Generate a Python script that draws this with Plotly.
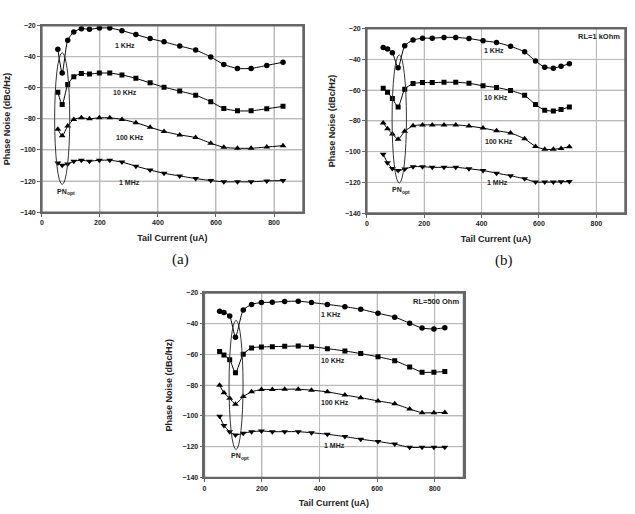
import plotly.graph_objects as go

W, H = 635, 514

# ---------------- data ----------------
series_names = ["1 KHz", "10 KHz", "100 KHz", "1 MHz"]
series_symbols = ["circle", "square", "triangle-up", "triangle-down"]

x_a = [55, 70, 89, 110, 136, 164, 198, 234, 276, 324, 373, 421, 475, 530, 582, 627, 674, 721, 775, 831]
a_1k = [-35.2, -50.5, -29.3, -24.0, -21.9, -22.3, -21.5, -21.5, -23.2, -25.7, -28.3, -30.4, -33.1, -35.7, -40.1, -45.0, -47.5, -47.5, -45.6, -43.5]
a_10k = [-62.8, -70.8, -57.9, -52.8, -50.7, -51.1, -50.5, -50.5, -51.7, -53.9, -56.8, -59.6, -62.1, -64.7, -68.9, -73.3, -74.8, -74.8, -73.5, -71.9]
a_100k = [-86.7, -90.9, -84.6, -80.3, -79.3, -79.9, -79.3, -79.3, -80.3, -82.4, -85.4, -88.1, -90.3, -92.0, -95.6, -98.3, -98.9, -98.9, -98.1, -97.2]
a_1m = [-108.3, -109.9, -109.1, -107.2, -106.6, -107.2, -106.6, -106.6, -107.8, -110.4, -112.9, -115.0, -116.7, -118.4, -119.7, -120.5, -120.5, -120.5, -119.9, -119.7]

x_b = [57, 72, 89, 109, 132, 161, 194, 228, 269, 310, 356, 405, 452, 501, 550, 588, 620, 650, 677, 706]
b_1k = [-32.3, -33.2, -35.7, -45.5, -31.1, -27.4, -26.2, -26.2, -25.7, -25.7, -26.4, -27.9, -29.0, -31.5, -35.1, -41.1, -45.1, -45.7, -44.5, -42.8]
b_10k = [-58.7, -61.3, -65.5, -70.9, -59.4, -55.7, -55.1, -55.1, -54.9, -54.9, -55.5, -57.2, -58.3, -60.2, -63.4, -69.4, -73.0, -73.6, -72.6, -70.9]
b_100k = [-81.3, -85.1, -88.5, -91.9, -86.8, -83.2, -82.6, -82.6, -82.6, -82.6, -83.4, -84.7, -86.4, -87.9, -91.7, -96.6, -98.5, -98.5, -97.9, -96.8]
b_1m = [-101.7, -107.2, -110.9, -112.3, -111.3, -109.8, -109.8, -110.2, -110.2, -110.2, -111.1, -112.3, -114.0, -115.7, -117.7, -119.8, -119.8, -119.8, -119.6, -119.4]

x_c = [53, 68, 88, 108, 135, 164, 198, 236, 279, 326, 372, 427, 488, 543, 603, 661, 713, 756, 797, 835]
c_1k = [-31.9, -32.6, -35.0, -48.7, -31.1, -27.4, -26.2, -26.0, -25.5, -25.3, -26.2, -27.4, -28.9, -30.6, -33.2, -35.7, -39.6, -42.8, -43.4, -42.6]
c_10k = [-58.1, -60.4, -63.4, -71.9, -59.8, -55.7, -55.1, -54.9, -54.7, -54.5, -54.9, -56.2, -57.7, -59.4, -61.5, -64.0, -68.1, -71.5, -71.5, -71.1]
c_100k = [-80.0, -84.9, -88.5, -92.3, -87.4, -84.3, -82.8, -82.8, -82.6, -82.6, -83.2, -84.3, -86.4, -88.1, -90.2, -92.1, -95.5, -97.9, -97.9, -97.7]
c_1m = [-100.2, -106.2, -110.2, -112.3, -111.3, -110.2, -109.8, -110.2, -110.2, -110.2, -110.9, -111.9, -113.4, -115.1, -116.6, -118.3, -120.4, -120.4, -120.4, -120.4]

x_ticks = [0, 200, 400, 600, 800]
y_ticks = [-140, -120, -100, -80, -60, -40, -20]
x_title = "Tail Current (uA)"
y_title = "Phase Noise (dBc/Hz)"
panel_tags = ["(a)", "(b)", ""]
rl_labels = ["", "RL=1 kOhm", "RL=500 Ohm"]

# label positions (data units) per panel: x, y for each series label
label_xy = [
    [(285, -33), (288, -63), (305, -92.2), (302, -120.8)],
    [(444, -34.4), (450, -64.9), (459, -93.2), (456, -120.2)],
    [(439, -34.3), (447, -64.2), (455, -91.4), (451, -119.2)],
]
pnopt_xy = [(78, -126.7), (117, -124.7), (119, -126)]
ellipse = [  # cx, half-width, cy, half-height
    (70, 26, -79.8, 42.4),
    (113, 25, -78.7, 41.7),
    (110, 24.3, -79.8, 42.0),
]

panels_x = [x_a, x_b, x_c]
panels_y = [[a_1k, a_10k, a_100k, a_1m], [b_1k, b_10k, b_100k, b_1m], [c_1k, c_10k, c_100k, c_1m]]

# plot-area pixel boxes (left, top, right, bottom)
boxes = [(40, 22, 302, 211), (366, 25, 625, 212), (203, 293, 463, 480)]

FONT = "Liberation Sans"
TXT = "#222222"
GRID = "#bbbbbb"
FRAME = "#666666"

fig = go.Figure()
layout = dict(
    width=W, height=H, margin=dict(l=0, r=0, t=0, b=0),
    paper_bgcolor="white", plot_bgcolor="white", showlegend=False,
)
annotations = []
shapes = []


def px(xp):
    return xp / W


def py(yp):
    return 1 - yp / H


for i in range(3):
    sfx = "" if i == 0 else str(i + 1)
    xa, ya = "x" + sfx, "y" + sfx
    l, t, r, b = boxes[i]
    common = dict(
        showgrid=True, gridcolor=GRID, gridwidth=1, zeroline=False,
        showline=True, linecolor=FRAME, linewidth=1.5, mirror=True,
        ticks="outside", ticklen=3, tickcolor=FRAME,
        tickfont=dict(family=FONT, size=7, color=TXT, weight="bold"),
    )
    layout["xaxis" + sfx] = dict(
        domain=[px(l), px(r)], anchor=ya, range=[0, 900], tickvals=x_ticks,
        title=dict(text=x_title, standoff=9, font=dict(family=FONT, size=9, color=TXT, weight="bold")),
        **common,
    )
    layout["yaxis" + sfx] = dict(
        domain=[py(b), py(t)], anchor=xa, range=[-140, -20], tickvals=y_ticks,
        title=dict(text=y_title, standoff=8, font=dict(family=FONT, size=9, color=TXT, weight="bold")),
        **common,
    )
    # grid and frame, drawn through the axes as well (below the data)
    for xv in x_ticks[1:]:
        shapes.append(dict(type="line", xref=xa, yref=ya + " domain", x0=xv, x1=xv, y0=0, y1=1,
                           layer="below", line=dict(color=GRID, width=1)))
    for yv in y_ticks[1:-1]:
        shapes.append(dict(type="line", xref=xa + " domain", yref=ya, x0=0, x1=1, y0=yv, y1=yv,
                           layer="below", line=dict(color=GRID, width=1)))
    shapes.append(dict(type="rect", xref=xa + " domain", yref=ya + " domain", x0=0, x1=1, y0=0, y1=1,
                       layer="above", line=dict(color=FRAME, width=1.5)))

    for k in range(4):
        fig.add_trace(go.Scatter(
            x=panels_x[i], y=panels_y[i][k], xaxis=xa, yaxis=ya,
            mode="lines+markers", line=dict(color="black", width=1, shape="spline", smoothing=0.6),
            marker=dict(symbol=series_symbols[k], color="black", size=[5.5, 5, 6, 6][k]),
            name=series_names[k],
        ))
        lx, ly = label_xy[i][k]
        annotations.append(dict(x=lx, y=ly, xref=xa, yref=ya, text=series_names[k], showarrow=False,
                                xanchor="center", yanchor="middle",
                                font=dict(family=FONT, size=7, color=TXT, weight="bold")))
    cx, hw, cy, hh = ellipse[i]
    shapes.append(dict(type="circle", xref=xa, yref=ya, x0=cx - hw, x1=cx + hw, y0=cy - hh, y1=cy + hh,
                       line=dict(color="#333333", width=1)))
    # "PN" with subscript "opt" as two plain texts
    annotations.append(dict(x=pnopt_xy[i][0], y=pnopt_xy[i][1], xref=xa, yref=ya, xshift=3, borderpad=0,
                            text="PN", showarrow=False, xanchor="right", yanchor="middle",
                            font=dict(family=FONT, size=7, color=TXT, weight="bold")))
    annotations.append(dict(x=pnopt_xy[i][0], y=pnopt_xy[i][1], xref=xa, yref=ya, xshift=1, yshift=-2,
                            borderpad=0, text="opt", showarrow=False, xanchor="left", yanchor="middle",
                            font=dict(family=FONT, size=5, color=TXT, weight="bold")))
    if rl_labels[i]:
        annotations.append(dict(x=890, y=-25.3, xref=xa, yref=ya, xanchor="right", yanchor="middle",
                                text=rl_labels[i], showarrow=False,
                                font=dict(family=FONT, size=7.5, color=TXT, weight="bold")))
    if panel_tags[i]:
        annotations.append(dict(x=px((l + r) / 2 + 8), y=py(b + 48), xref="paper", yref="paper",
                                xanchor="center", yanchor="middle",
                                text=panel_tags[i], showarrow=False,
                                font=dict(family="Liberation Serif", size=15, color="#111111")))

layout["annotations"] = annotations
layout["shapes"] = shapes
fig.update_layout(**layout)
fig.write_html("out.html")
